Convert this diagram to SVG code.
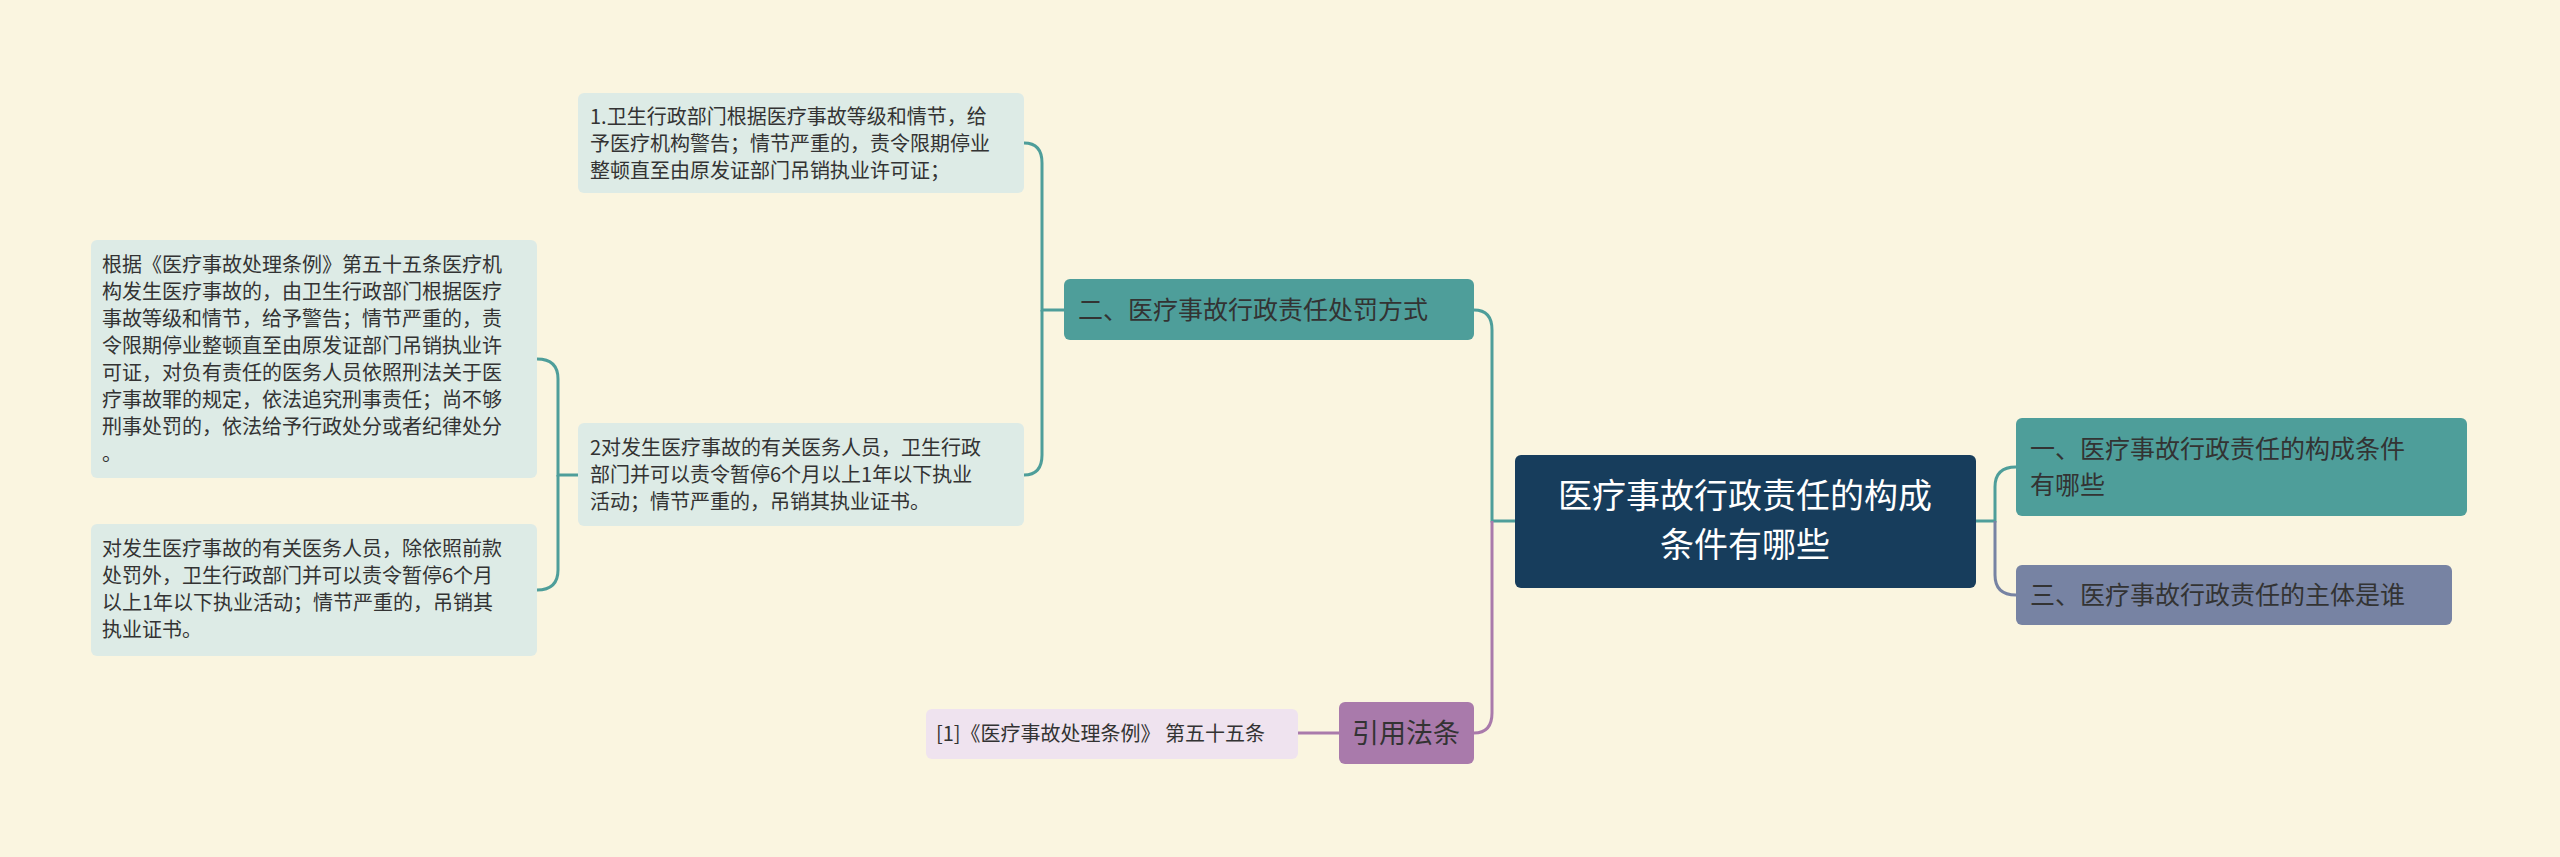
<svg xmlns="http://www.w3.org/2000/svg" width="2560" height="857" viewBox="0 0 2560 857">
<style>
text{font-family:"Noto Sans CJK SC","Noto Sans",sans-serif}
.leaf{fill:#ddebe6}
.lt{font-size:20px;fill:#333}
.c{fill:none;stroke-width:3}
</style>
<rect width="2560" height="857" fill="#faf5e0"/>
<g id="connectors">
<path class="c" stroke="#4e9e9a" d="M1515 521 H1492 V330 Q1492 310 1474 310"/>
<path class="c" stroke="#a97aab" d="M1492 521 V713 Q1492 733 1474 733"/>
<path class="c" stroke="#4e9e9a" d="M1976 521 H1995 V487 Q1995 467 2016 467"/>
<path class="c" stroke="#7783a3" d="M1995 521 V575 Q1995 595 2016 595"/>
<path class="c" stroke="#4e9e9a" d="M1064 310 H1042 V163 Q1042 143 1024 143"/>
<path class="c" stroke="#4e9e9a" d="M1042 310 V455 Q1042 475 1024 475"/>
<path class="c" stroke="#4e9e9a" d="M578 475 H558 V379 Q558 359 537 359"/>
<path class="c" stroke="#4e9e9a" d="M558 475 V570 Q558 590 537 590"/>
<path class="c" stroke="#a97aab" d="M1339 733 H1298"/>
</g>
<g id="root"><rect x="1515" y="455" width="461" height="133" rx="6" fill="#173d5c"/>
<text x="1745" y="508" font-size="34" fill="#fff" text-anchor="middle">医疗事故行政责任的构成</text>
<text x="1745" y="557" font-size="34" fill="#fff" text-anchor="middle">条件有哪些</text></g>
<g id="n1"><rect x="2016" y="418" width="451" height="98" rx="6" fill="#4e9e9a"/>
<text x="2030" y="458" font-size="25" fill="#333">一、医疗事故行政责任的构成条件</text>
<text x="2030" y="494" font-size="25" fill="#333">有哪些</text></g>
<g id="n3"><rect x="2016" y="565" width="436" height="60" rx="6" fill="#7783a3"/>
<text x="2030" y="604" font-size="25" fill="#333">三、医疗事故行政责任的主体是谁</text></g>
<g id="n2"><rect x="1064" y="279" width="410" height="61" rx="6" fill="#4e9e9a"/>
<text x="1078" y="319" font-size="25" fill="#333">二、医疗事故行政责任处罚方式</text></g>
<g id="nref"><rect x="1339" y="702" width="135" height="62" rx="6" fill="#a97aab"/>
<text x="1406" y="743" font-size="27" fill="#333" text-anchor="middle">引用法条</text></g>
<g id="refleaf"><rect x="926" y="709" width="372" height="50" rx="6" fill="#efe3ef"/>
<text x="936" y="741" class="lt">[1]《医疗事故处理条例》 第五十五条</text></g>
<g id="leaf1"><rect class="leaf" x="578" y="93" width="446" height="100" rx="6"/>
<text class="lt" x="590" y="124">1.卫生行政部门根据医疗事故等级和情节，给</text>
<text class="lt" x="590" y="151">予医疗机构警告；情节严重的，责令限期停业</text>
<text class="lt" x="590" y="178">整顿直至由原发证部门吊销执业许可证；</text></g>
<g id="leaf2"><rect class="leaf" x="578" y="423" width="446" height="103" rx="6"/>
<text class="lt" x="590" y="455">2对发生医疗事故的有关医务人员，卫生行政</text>
<text class="lt" x="590" y="482">部门并可以责令暂停6个月以上1年以下执业</text>
<text class="lt" x="590" y="509">活动；情节严重的，吊销其执业证书。</text></g>
<g id="leafA"><rect class="leaf" x="91" y="240" width="446" height="238" rx="6"/>
<text class="lt" x="102" y="272">根据《医疗事故处理条例》第五十五条医疗机</text>
<text class="lt" x="102" y="299">构发生医疗事故的，由卫生行政部门根据医疗</text>
<text class="lt" x="102" y="326">事故等级和情节，给予警告；情节严重的，责</text>
<text class="lt" x="102" y="353">令限期停业整顿直至由原发证部门吊销执业许</text>
<text class="lt" x="102" y="380">可证，对负有责任的医务人员依照刑法关于医</text>
<text class="lt" x="102" y="407">疗事故罪的规定，依法追究刑事责任；尚不够</text>
<text class="lt" x="102" y="434">刑事处罚的，依法给予行政处分或者纪律处分</text>
<text class="lt" x="102" y="461">。</text></g>
<g id="leafB"><rect class="leaf" x="91" y="524" width="446" height="132" rx="6"/>
<text class="lt" x="102" y="556">对发生医疗事故的有关医务人员，除依照前款</text>
<text class="lt" x="102" y="583">处罚外，卫生行政部门并可以责令暂停6个月</text>
<text class="lt" x="102" y="610">以上1年以下执业活动；情节严重的，吊销其</text>
<text class="lt" x="102" y="637">执业证书。</text></g>
</svg>
